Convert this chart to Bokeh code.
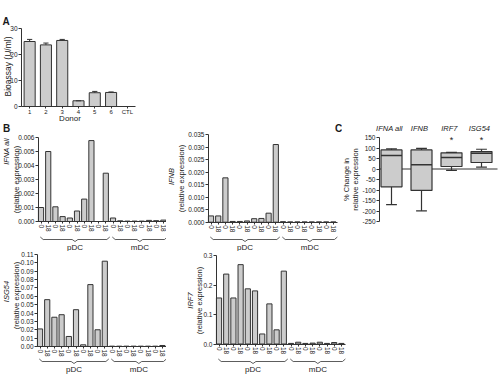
import math
from bokeh.plotting import figure
from bokeh.models import FixedTicker, NumeralTickFormatter, Range1d
from bokeh.layouts import column, row
from bokeh.embed import file_html
from bokeh.resources import INLINE
from bokeh.core.properties import value

# ---------------- data ----------------
# A: bioassay of interferon activity per donor
donors = ["1", "2", "3", "4", "5", "6", "CTL"]
bioassay = [25.0, 23.7, 25.4, 2.2, 5.3, 5.4, 0.0]
bioassay_err = [0.8, 0.7, 0.4, 0.0, 0.5, 0.2, 0.0]

# B: relative expression, 0 h / 18 h per donor, pDC donors then mDC donors
hours = ["0", "18"]
cell_types = ["pDC", "mDC"]
donors_per_cell = [5, 4]

ifna_all = [0.00100, 0.00500, 0.00105, 0.00035, 0.00025, 0.00075, 0.00160, 0.00578, 0.00000, 0.00345,
            0.00025, 0.00005, 0.00003, 0.00003, 0.00003, 0.00008, 0.00006, 0.00010]
ifnb = [0.0025, 0.0025, 0.0177, 0.0003, 0.0003, 0.0005, 0.0014, 0.0015, 0.0036, 0.0310,
        0.0002, 0.0001, 0.0001, 0.0001, 0.0001, 0.0001, 0.0001, 0.0001]
isg54 = [0.021, 0.056, 0.035, 0.038, 0.012, 0.044, 0.002, 0.074, 0.020, 0.102,
         0.0004, 0.0004, 0.0004, 0.0004, 0.0004, 0.0004, 0.0004, 0.0012]
irf7 = [0.156, 0.237, 0.156, 0.269, 0.187, 0.180, 0.034, 0.136, 0.048, 0.247,
        0.002, 0.006, 0.002, 0.003, 0.006, 0.002, 0.005, 0.002]

# C: % change in relative expression (box and whiskers)
genes = ["IFNA all", "IFNB", "IRF7", "ISG54"]
whisker_low = [-170, -199, -7, 9]
quart_1 = [-85, -102, 12, 31]
medians = [64, 20, 55, 75]
quart_3 = [91, 91, 77, 83]
whisker_high = [96, 98, 79, 94]
significant = [False, False, True, True]

# ---------------- style ----------------
FONT = "Liberation Sans"
TEXT = "#1a1a1a"
EDGE = "#333333"
FILL = "#cccccc"


class Panel:
    """One figure whose frame fills its canvas; the data box (xd, yd) is pinned
    to the page pixels given in box = (left, right, top, bottom)."""

    def __init__(self, ox, oy, w, h, box, xd, yd):
        px0, px1, py0, py1 = box
        self.sx = (px1 - px0) / (xd[1] - xd[0])
        self.sy = (py1 - py0) / (yd[1] - yd[0])
        self.px0, self.py1 = px0, py1
        self.xd, self.yd = xd, yd
        xr = (self.x(ox), self.x(ox + w))
        yr = (self.y(oy + h), self.y(oy))
        p = figure(width=w, height=h, x_range=Range1d(*xr), y_range=Range1d(*yr),
                   min_border=0, title=None, output_backend="svg", toolbar_location=None)
        p.outline_line_color = None
        p.grid.visible = False
        p.background_fill_color = "white"
        p.border_fill_color = "white"
        for ax in p.axis:
            style_axis(ax)
        p.xaxis.fixed_location = yd[0]
        p.xaxis.bounds = xd
        p.yaxis.fixed_location = xd[0]
        p.yaxis.bounds = yd
        self.p = p

    def x(self, px):
        return self.xd[0] + (px - self.px0) / self.sx

    def y(self, py):
        return self.yd[0] + (self.py1 - py) / self.sy

    def text(self, pxs, pys, texts, size, style="normal", align="center", angle=0.0):
        self.p.text(x=[self.x(v) for v in pxs], y=[self.y(v) for v in pys], text=texts,
                    text_font=value(FONT), text_font_size=value(size),
                    text_font_style=style, text_align=align, text_baseline="middle",
                    angle=angle, text_color=TEXT)


def style_axis(ax):
    ax.axis_line_color = EDGE
    ax.axis_line_width = 1
    ax.major_tick_line_color = EDGE
    ax.major_tick_line_width = 1
    ax.major_tick_out = 3
    ax.major_tick_in = 0
    ax.minor_tick_line_color = None
    ax.major_label_text_font = FONT
    ax.major_label_text_font_size = "6.5px"
    ax.major_label_text_color = TEXT
    ax.major_label_standoff = 1


VERT = math.pi / 2
ROW2 = 122  # page y where the second row of panels starts

# ---------------- A ----------------
pa = Panel(0, 0, 140, ROW2, (21, 135, 28, 106), (0.5, len(donors) + 0.5), (0, 30))
xa = list(range(1, len(donors) + 1))
pa.p.vbar(x=xa, top=bioassay, width=0.68, fill_color=FILL, line_color=EDGE, line_width=1)
err_top = [v + e for v, e in zip(bioassay, bioassay_err)]
pa.p.segment(x0=xa, y0=bioassay, x1=xa, y1=err_top, line_color=EDGE, line_width=1)
pa.p.segment(x0=[x - 0.16 for x in xa], y0=err_top, x1=[x + 0.16 for x in xa], y1=err_top,
             line_color=EDGE, line_width=1)
pa.p.xaxis.ticker = FixedTicker(ticks=xa)
pa.p.xaxis.major_label_overrides = {x: d for x, d in zip(xa, donors)}
pa.p.xaxis.major_tick_out = 2
pa.p.xaxis.major_label_standoff = 0
pa.p.xaxis.major_label_text_font_size = "6px"
pa.p.yaxis.ticker = FixedTicker(ticks=[0, 10, 20, 30])
pa.text([69.5], [117.5], ["Donor"], "8px")
pa.text([7], [66], ["Bioassay (U/ml)"], "8.5px", angle=VERT)
pa.text([2], [21], ["A"], "10px", style="bold", align="left")

# ---------------- B ----------------
bar_labels = []
groups = []
start = 1
for cell, n in zip(cell_types, donors_per_cell):
    bar_labels += hours * n
    groups.append((cell, start, start + 2 * n - 1))
    start += 2 * n
xb = list(range(1, len(bar_labels) + 1))


def expression_panel(ox, oy, w, h, box, ymax, step, fmt, vals,
                     gene, gene_xy, sub_xy, bracket_py, group_py):
    pan = Panel(ox, oy, w, h, box, (0.65, len(vals) + 0.5), (0, ymax))
    p = pan.p
    p.vbar(x=xb, top=vals, width=0.72, fill_color=FILL, line_color=EDGE, line_width=1)
    nt = int(round(ymax / step))
    p.yaxis.ticker = FixedTicker(ticks=[round(i * step, 4) for i in range(nt + 1)])
    p.yaxis.formatter = NumeralTickFormatter(format=fmt)
    p.xaxis.ticker = FixedTicker(ticks=xb)
    p.xaxis.major_label_overrides = {x: s for x, s in zip(xb, bar_labels)}
    p.xaxis.major_label_orientation = "vertical"
    p.xaxis.major_tick_out = 2
    pan.text([gene_xy[0]], [gene_xy[1]], [gene], "7.5px", style="italic", angle=VERT)
    pan.text([sub_xy[0]], [sub_xy[1]], ["(relative expression)"], "7.5px", angle=VERT)
    # curly brackets under each cell type, with its name
    y_mid, y_up, y_dn = pan.y(bracket_py), pan.y(bracket_py - 2.5), pan.y(bracket_py + 2)
    xs, ys, names, cx = [], [], [], []
    for cell, a, b in groups:
        xl, xr = a - 0.1, b + 0.55
        xc = (xl + xr) / 2
        xs.append([xl, xl + 0.4, xc - 0.4, xc, xc + 0.4, xr - 0.4, xr])
        ys.append([y_up, y_mid, y_mid, y_dn, y_mid, y_mid, y_up])
        names.append(cell)
        cx.append(xc)
    p.multi_line(xs=xs, ys=ys, line_color=EDGE, line_width=0.8)
    p.text(x=cx, y=[pan.y(group_py)] * len(cx), text=names, text_font=value(FONT),
           text_font_size=value("8px"), text_align="center", text_baseline="middle",
           text_color=TEXT)
    return pan


h2 = 251 - ROW2
b1 = expression_panel(0, ROW2, 166, h2, (38, 166.5, 137, 221), 0.006, 0.001, "0.000",
                      ifna_all, "IFNA all", (5.5, 151), (15.5, 179), 239, 247)
b1.text([2.5], [127.5], ["B"], "10px", style="bold", align="left")
b2 = expression_panel(166, ROW2, 176, h2, (208, 336.5, 134, 221.7), 0.035, 0.005, "0.000",
                      ifnb, "IFNB", (171, 176), (180.5, 178), 239, 247)
b2.text([334.5], [128], ["C"], "10px", style="bold", align="left")
b3 = expression_panel(0, 251, 166, 129, (37, 165.5, 254, 346), 0.11, 0.01, "0.00",
                      isg54, "ISG54", (5.5, 291), (15.5, 295), 361, 369)
b4 = expression_panel(166, 251, 180, 129, (216, 344.5, 255, 343.5), 0.3, 0.1, "0.0",
                      irf7, "IRF7", (189.5, 300), (198.5, 300), 361, 369)

# ---------------- C ----------------
pc = Panel(342, ROW2, 156, h2, (379, 497, 137, 221), (0.6, 4.533), (-250, 150))
xc = list(range(1, len(genes) + 1))
p = pc.p
p.segment(x0=[pc.xd[0]], y0=[0], x1=[pc.xd[1]], y1=[0], line_color=EDGE, line_width=1)
p.segment(x0=xc, y0=quart_3, x1=xc, y1=whisker_high, line_color=EDGE, line_width=1.2)
p.segment(x0=xc, y0=quart_1, x1=xc, y1=whisker_low, line_color=EDGE, line_width=1.2)
p.vbar(x=xc, top=quart_3, bottom=quart_1, width=0.7, fill_color=FILL, line_color=EDGE,
       line_width=1.2)
p.segment(x0=[x - 0.35 for x in xc], y0=medians, x1=[x + 0.35 for x in xc], y1=medians,
          line_color=EDGE, line_width=1.5)
p.segment(x0=[x - 0.18 for x in xc], y0=whisker_high, x1=[x + 0.18 for x in xc],
          y1=whisker_high, line_color=EDGE, line_width=1.2)
p.segment(x0=[x - 0.18 for x in xc], y0=whisker_low, x1=[x + 0.18 for x in xc],
          y1=whisker_low, line_color=EDGE, line_width=1.2)
ticks_c = list(range(-250, 151, 50))
p.yaxis.ticker = FixedTicker(ticks=ticks_c)
p.yaxis.major_label_overrides = {t: str(t) for t in ticks_c}
p.xaxis.visible = False
p.text(x=[x - 0.07 for x in xc], y=[pc.y(128)] * len(xc), text=genes, text_font=value(FONT),
       text_font_size=value("7.5px"), text_font_style="italic", text_align="center",
       text_baseline="middle", text_color=TEXT)
star_x = [x for x, s in zip(xc, significant) if s]
p.text(x=star_x, y=[pc.y(139.5)] * len(star_x), text=["*"] * len(star_x),
       text_font=value(FONT), text_font_size=value("9px"), text_align="center",
       text_baseline="middle", text_color=TEXT)
pc.text([345.5, 355], [179, 179], ["% Change in", "relative expression"], "7.5px", angle=VERT)

layout = column(pa.p, row(b1.p, b2.p, pc.p), row(b3.p, b4.p))
open("out.html", "w").write(file_html(layout, INLINE))
